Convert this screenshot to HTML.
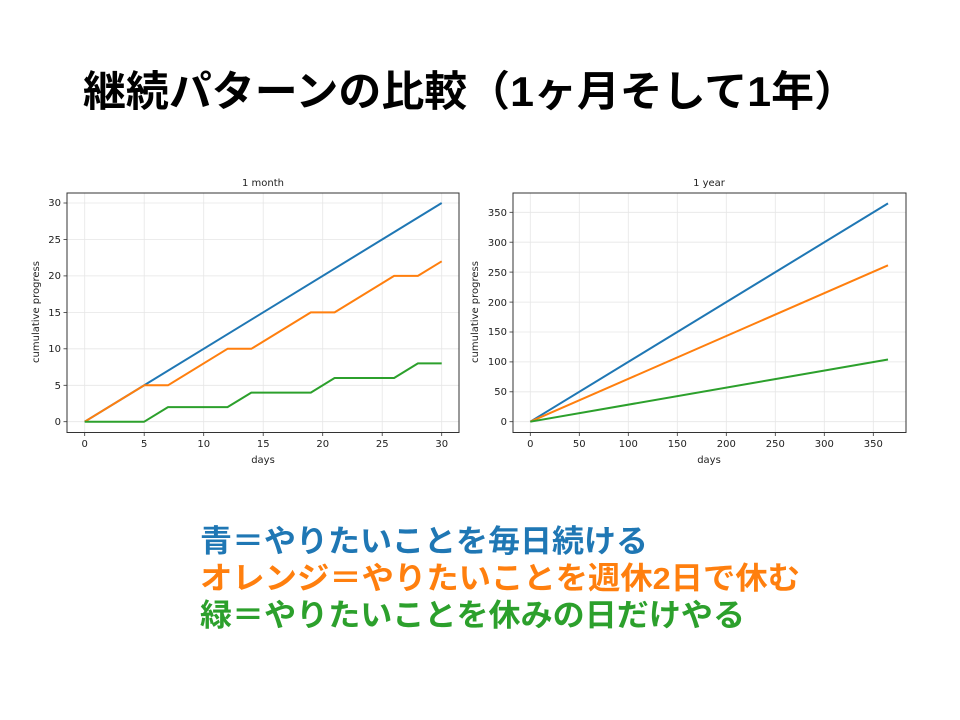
<!DOCTYPE html>
<html><head><meta charset="utf-8"><style>
html,body{margin:0;padding:0;background:#fff;}
svg{display:block;}
.t{font-family:"DejaVu Sans","Liberation Sans",sans-serif;font-size:10px;fill:#222;}
.j{font-family:"Liberation Sans","Noto Sans CJK JP",sans-serif;font-weight:bold;}
</style></head><body>
<svg width="960" height="720" viewBox="0 0 960 720" xmlns="http://www.w3.org/2000/svg">
<text class="j" x="83" y="106" font-size="42" textLength="774" lengthAdjust="spacingAndGlyphs" fill="#000">継続パターンの比較（1ヶ月そして1年）</text>

<!-- Left chart -->
<g>
<text class="t" x="263" y="186" text-anchor="middle" font-size="11.5">1 month</text>
<g stroke="#e6e6e6" stroke-width="0.8">
<line x1="84.7" y1="193" x2="84.7" y2="432"/><line x1="144.2" y1="193" x2="144.2" y2="432"/><line x1="203.7" y1="193" x2="203.7" y2="432"/><line x1="263.2" y1="193" x2="263.2" y2="432"/><line x1="322.7" y1="193" x2="322.7" y2="432"/><line x1="382.2" y1="193" x2="382.2" y2="432"/><line x1="441.7" y1="193" x2="441.7" y2="432"/>
<line x1="67" y1="421.7" x2="459" y2="421.7"/><line x1="67" y1="385.3" x2="459" y2="385.3"/><line x1="67" y1="348.8" x2="459" y2="348.8"/><line x1="67" y1="312.4" x2="459" y2="312.4"/><line x1="67" y1="275.9" x2="459" y2="275.9"/><line x1="67" y1="239.5" x2="459" y2="239.5"/><line x1="67" y1="203" x2="459" y2="203"/>
</g>
<rect x="67" y="193" width="392" height="239.5" fill="none" stroke="#333" stroke-width="1"/>
<g stroke="#333" stroke-width="0.8">
<line x1="84.7" y1="432.5" x2="84.7" y2="436"/><line x1="144.2" y1="432.5" x2="144.2" y2="436"/><line x1="203.7" y1="432.5" x2="203.7" y2="436"/><line x1="263.2" y1="432.5" x2="263.2" y2="436"/><line x1="322.7" y1="432.5" x2="322.7" y2="436"/><line x1="382.2" y1="432.5" x2="382.2" y2="436"/><line x1="441.7" y1="432.5" x2="441.7" y2="436"/>
<line x1="63.5" y1="421.7" x2="67" y2="421.7"/><line x1="63.5" y1="385.3" x2="67" y2="385.3"/><line x1="63.5" y1="348.8" x2="67" y2="348.8"/><line x1="63.5" y1="312.4" x2="67" y2="312.4"/><line x1="63.5" y1="275.9" x2="67" y2="275.9"/><line x1="63.5" y1="239.5" x2="67" y2="239.5"/><line x1="63.5" y1="203" x2="67" y2="203"/>
</g>
<g class="t" text-anchor="middle">
<text x="84.7" y="447">0</text><text x="144.2" y="447">5</text><text x="203.7" y="447">10</text><text x="263.2" y="447">15</text><text x="322.7" y="447">20</text><text x="382.2" y="447">25</text><text x="441.7" y="447">30</text>
<text x="263" y="463">days</text>
</g>
<g class="t" text-anchor="end">
<text x="61" y="425">0</text><text x="61" y="389">5</text><text x="61" y="352">10</text><text x="61" y="316">15</text><text x="61" y="279">20</text><text x="61" y="243">25</text><text x="61" y="206">30</text>
</g>
<text class="t" transform="translate(39,312) rotate(-90)" text-anchor="middle">cumulative progress</text>
<g fill="none" stroke-width="2" stroke-linejoin="round">
<polyline stroke="#1f77b4" points="84.7,421.7 441.7,203"/>
<polyline stroke="#ff7f0e" points="84.7,421.7 144.2,385.3 168,385.3 227.5,348.8 251.3,348.8 310.8,312.4 334.6,312.4 394.1,275.9 417.9,275.9 441.7,261.3"/>
<polyline stroke="#2ca02c" points="84.7,421.7 144.2,421.7 168,407.1 227.5,407.1 251.3,392.6 310.8,392.6 334.6,378 394.1,378 417.9,363.4 441.7,363.4"/>
</g>
</g>

<!-- Right chart -->
<g>
<text class="t" x="709" y="186" text-anchor="middle" font-size="11.5">1 year</text>
<g stroke="#e6e6e6" stroke-width="0.8">
<line x1="530.3" y1="193" x2="530.3" y2="432"/><line x1="579.3" y1="193" x2="579.3" y2="432"/><line x1="628.3" y1="193" x2="628.3" y2="432"/><line x1="677.3" y1="193" x2="677.3" y2="432"/><line x1="726.3" y1="193" x2="726.3" y2="432"/><line x1="775.3" y1="193" x2="775.3" y2="432"/><line x1="824.3" y1="193" x2="824.3" y2="432"/><line x1="873.3" y1="193" x2="873.3" y2="432"/>
<line x1="513" y1="421.7" x2="906" y2="421.7"/><line x1="513" y1="391.8" x2="906" y2="391.8"/><line x1="513" y1="361.9" x2="906" y2="361.9"/><line x1="513" y1="332" x2="906" y2="332"/><line x1="513" y1="302.1" x2="906" y2="302.1"/><line x1="513" y1="272.1" x2="906" y2="272.1"/><line x1="513" y1="242.2" x2="906" y2="242.2"/><line x1="513" y1="212.3" x2="906" y2="212.3"/>
</g>
<rect x="513" y="193" width="393" height="239.5" fill="none" stroke="#333" stroke-width="1"/>
<g stroke="#333" stroke-width="0.8">
<line x1="530.3" y1="432.5" x2="530.3" y2="436"/><line x1="579.3" y1="432.5" x2="579.3" y2="436"/><line x1="628.3" y1="432.5" x2="628.3" y2="436"/><line x1="677.3" y1="432.5" x2="677.3" y2="436"/><line x1="726.3" y1="432.5" x2="726.3" y2="436"/><line x1="775.3" y1="432.5" x2="775.3" y2="436"/><line x1="824.3" y1="432.5" x2="824.3" y2="436"/><line x1="873.3" y1="432.5" x2="873.3" y2="436"/>
<line x1="509.5" y1="421.7" x2="513" y2="421.7"/><line x1="509.5" y1="391.8" x2="513" y2="391.8"/><line x1="509.5" y1="361.9" x2="513" y2="361.9"/><line x1="509.5" y1="332" x2="513" y2="332"/><line x1="509.5" y1="302.1" x2="513" y2="302.1"/><line x1="509.5" y1="272.1" x2="513" y2="272.1"/><line x1="509.5" y1="242.2" x2="513" y2="242.2"/><line x1="509.5" y1="212.3" x2="513" y2="212.3"/>
</g>
<g class="t" text-anchor="middle">
<text x="530.3" y="447">0</text><text x="579.3" y="447">50</text><text x="628.3" y="447">100</text><text x="677.3" y="447">150</text><text x="726.3" y="447">200</text><text x="775.3" y="447">250</text><text x="824.3" y="447">300</text><text x="873.3" y="447">350</text>
<text x="709" y="463">days</text>
</g>
<g class="t" text-anchor="end">
<text x="507" y="425">0</text><text x="507" y="395">50</text><text x="507" y="365">100</text><text x="507" y="335">150</text><text x="507" y="306">200</text><text x="507" y="276">250</text><text x="507" y="246">300</text><text x="507" y="216">350</text>
</g>
<text class="t" transform="translate(478,312) rotate(-90)" text-anchor="middle">cumulative progress</text>
<g fill="none" stroke-width="2">
<line stroke="#1f77b4" x1="530.3" y1="421.7" x2="888" y2="203.4"/>
<line stroke="#ff7f0e" x1="530.3" y1="421.7" x2="888" y2="265.3"/>
<line stroke="#2ca02c" x1="530.3" y1="421.7" x2="888" y2="359.5"/>
</g>
</g>

<text class="j" x="200" y="552" font-size="31" textLength="448" lengthAdjust="spacingAndGlyphs" fill="#1f77b4">青＝やりたいことを毎日続ける</text>
<text class="j" x="200" y="589" font-size="31" textLength="600" lengthAdjust="spacingAndGlyphs" fill="#ff7f0e">オレンジ＝やりたいことを週休2日で休む</text>
<text class="j" x="200" y="626" font-size="31" textLength="545" lengthAdjust="spacingAndGlyphs" fill="#2ca02c">緑＝やりたいことを休みの日だけやる</text>
</svg>
</body></html>
